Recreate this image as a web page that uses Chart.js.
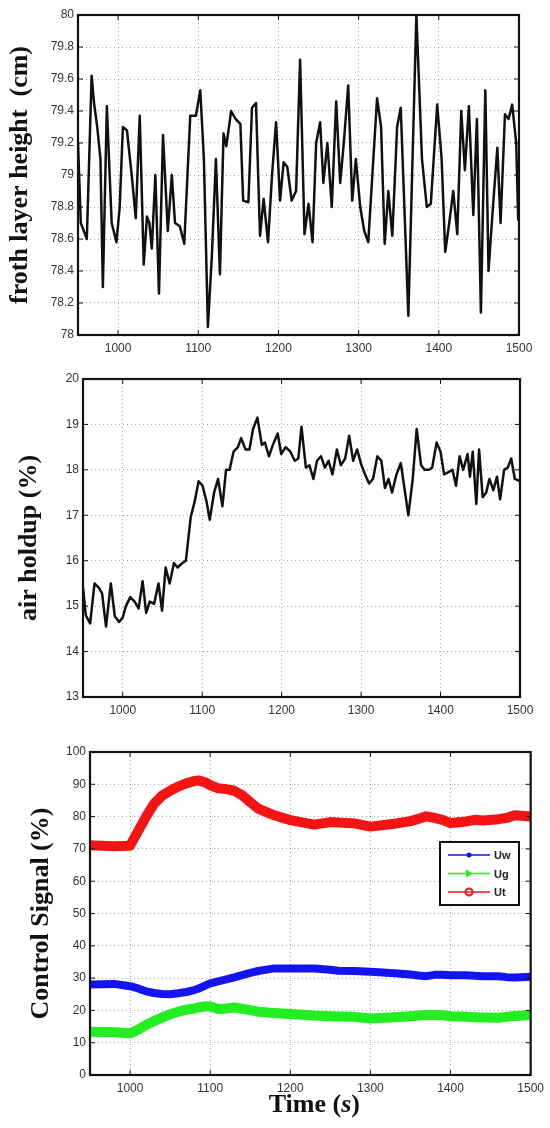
<!DOCTYPE html>
<html>
<head>
<meta charset="utf-8">
<script src="https://cdn.jsdelivr.net/npm/chart.js@4.4.1/dist/chart.umd.min.js"></script>
<style>
    body { margin: 0; background: #fff; width: 550px; height: 1128px; overflow: hidden; }
    canvas { position: absolute; left: 0; }
    #c1 { top: 0; }
    #c2 { top: 365px; }
    #c3 { top: 735px; }
</style>
</head>
<body>
<canvas id="c1" width="550" height="365"></canvas>
<canvas id="c2" width="550" height="370"></canvas>
<canvas id="c3" width="550" height="393"></canvas>
<script>
// ticks shared by the three plots
const xTicks = [1000, 1100, 1200, 1300, 1400, 1500];
const frothTicks = [78, 78.2, 78.4, 78.6, 78.8, 79, 79.2, 79.4, 79.6, 79.8, 80];
const holdupTicks = [13, 14, 15, 16, 17, 18, 19, 20];
const ctrlTicks = [0, 10, 20, 30, 40, 50, 60, 70, 80, 90, 100];

// froth layer height (cm)
const frothTime = [950, 953.5, 961, 967, 970, 974, 978, 981, 986, 989.5, 992, 998, 1002, 1006, 1011, 1017,
    1022, 1027, 1032, 1036, 1039, 1042, 1046.5, 1051, 1056, 1062, 1067, 1071, 1077, 1082.5, 1090, 1097,
    1102.5, 1107, 1112, 1117, 1122, 1127, 1131.5, 1135, 1141, 1146.5, 1152.5, 1156, 1162.5, 1167, 1172,
    1177, 1181.5, 1187, 1192, 1197, 1202, 1206.5, 1211, 1216.5, 1222, 1227, 1232.5, 1237.5, 1242.5, 1247,
    1252, 1256, 1261, 1266.5, 1272, 1277, 1281.5, 1287, 1292, 1296.5, 1302, 1307, 1312, 1323, 1328, 1332.5,
    1337, 1342, 1348, 1352.5, 1362, 1372, 1379, 1385, 1390, 1398, 1403.5, 1408, 1413, 1418, 1423, 1428,
    1432.5, 1437.5, 1443, 1447.5, 1452.5, 1458, 1462, 1467.5, 1473, 1477, 1482.5, 1487, 1491.5, 1496.5,
    1499, 1500];
const frothHeight = [79.2, 78.7, 78.6, 79.62, 79.45, 79.3, 79.1, 78.3, 79.43, 79.0, 78.7, 78.58, 78.8, 79.3,
    79.28, 79.0, 78.73, 79.37, 78.44, 78.74, 78.7, 78.54, 79.0, 78.26, 79.25, 78.65, 79.0, 78.7, 78.68,
    78.57, 79.37, 79.37, 79.53, 79.1, 78.05, 78.5, 79.1, 78.38, 79.26, 79.18, 79.4, 79.35, 79.32, 78.84,
    78.83, 79.42, 79.45, 78.62, 78.85, 78.58, 79.0, 79.33, 78.84, 79.08, 79.05, 78.84, 78.9, 79.72, 78.63,
    78.82, 78.58, 79.2, 79.33, 78.95, 79.2, 78.8, 79.46, 78.95, 79.2, 79.56, 78.84, 79.1, 78.8, 78.65,
    78.58, 79.48, 79.3, 78.57, 78.9, 78.62, 79.3, 79.42, 78.12, 80.0, 79.1, 78.8, 78.82, 79.44, 79.1, 78.52,
    78.7, 78.9, 78.63, 79.4, 79.03, 79.43, 78.75, 79.35, 78.14, 79.53, 78.4, 78.8, 79.17, 78.7, 79.38,
    79.35, 79.44, 79.2, 78.72, 79.0];

// air holdup (%)
const holdupTime = [950, 953.5, 959, 964.5, 970, 974, 979, 985, 990, 995.5, 1000, 1004, 1009.5, 1015, 1020,
    1025, 1029.5, 1034, 1039.5, 1045, 1049.5, 1054, 1059, 1064.5, 1069, 1075, 1079.5, 1085.5, 1090.5,
    1095.5, 1100.5, 1105.5, 1109.5, 1115, 1120, 1125.5, 1130, 1134.5, 1139.5, 1145, 1149, 1154.5, 1159.5,
    1164, 1169.5, 1175, 1179, 1184, 1189, 1195, 1199.5, 1205, 1211, 1216.5, 1221, 1225, 1230.5, 1235, 1240,
    1244.5, 1249.5, 1254.5, 1259, 1264, 1269.5, 1274.5, 1280, 1285, 1290, 1295, 1300.5, 1305, 1310, 1315,
    1320.5, 1325.5, 1330, 1334.5, 1339, 1344.5, 1350, 1354.5, 1359.5, 1365, 1370, 1375.5, 1380, 1385,
    1389.5, 1395, 1400, 1404.5, 1410, 1415, 1419.5, 1424, 1428.5, 1434, 1437, 1440.5, 1445, 1448.5, 1453,
    1457.5, 1461.5, 1466.5, 1471, 1475, 1480, 1484.5, 1489, 1493.5, 1500];
const holdup = [15.4, 14.8, 14.62, 15.5, 15.4, 15.28, 14.55, 15.5, 14.78, 14.65, 14.75, 15.0, 15.2, 15.1,
    14.95, 15.55, 14.85, 15.1, 15.05, 15.5, 14.9, 15.85, 15.5, 15.95, 15.85, 15.95, 16.0, 16.95, 17.3,
    17.75, 17.65, 17.3, 16.9, 17.5, 17.8, 17.2, 18.0, 18.0, 18.4, 18.5, 18.7, 18.45, 18.45, 18.9, 19.15,
    18.55, 18.6, 18.3, 18.55, 18.8, 18.35, 18.5, 18.4, 18.2, 18.25, 18.95, 18.05, 18.1, 17.8, 18.2, 18.3,
    18.05, 18.2, 17.9, 18.45, 18.1, 18.25, 18.75, 18.2, 18.45, 18.1, 17.9, 17.7, 17.8, 18.3, 18.2, 17.6,
    17.8, 17.5, 17.9, 18.15, 17.6, 17.0, 17.8, 18.9, 18.1, 18.0, 18.0, 18.05, 18.6, 18.4, 17.9, 17.95,
    18.0, 17.65, 18.3, 18.0, 18.35, 17.85, 18.4, 17.25, 18.45, 17.4, 17.5, 17.8, 17.55, 17.85, 17.35,
    18.0, 18.05, 18.25, 17.8, 17.75];

// control signals (%)
const ctrlTime = [950, 980, 1000, 1010, 1020, 1030, 1040, 1050, 1060, 1070, 1080, 1085, 1095, 1100, 1110,
    1120, 1130, 1140, 1150, 1160, 1180, 1200, 1230, 1250, 1260, 1280, 1300, 1330, 1350, 1360, 1370, 1380,
    1390, 1400, 1420, 1430, 1440, 1460, 1470, 1480, 1500];
const uw = [28, 28.2, 27.5, 26.8, 25.9, 25.4, 25.1, 25, 25.3, 25.7, 26.3, 26.7, 27.8, 28.4, 29, 29.6, 30.2,
    30.9, 31.6, 32.2, 33, 33, 33, 32.6, 32.3, 32.2, 32, 31.5, 31.1, 30.8, 30.6, 31, 31, 30.9, 30.9, 30.7,
    30.6, 30.6, 30.3, 30.2, 30.4];
const ug = [13.4, 13.2, 12.9, 14, 15.5, 16.7, 17.8, 18.8, 19.6, 20.2, 20.6, 20.9, 21.3, 21.2, 20.4, 20.6,
    20.9, 20.5, 20.1, 19.6, 19.2, 18.9, 18.4, 18.2, 18.1, 18, 17.5, 17.9, 18.2, 18.4, 18.6, 18.6, 18.5,
    18.2, 18, 17.9, 17.8, 17.7, 18, 18.3, 18.6];
const ut = [71.1, 70.8, 71, 75.5, 80, 84, 86.5, 88, 89.3, 90.3, 91, 91.2, 90.5, 89.7, 88.8, 88.5, 88, 86.6,
    84.5, 82.5, 80.4, 78.9, 77.5, 78.3, 78.2, 77.9, 76.9, 77.8, 78.6, 79.3, 80.1, 79.6, 79, 78, 78.5, 79,
    78.8, 79.2, 79.6, 80.4, 80];

const legendNames = ['Uw', 'Ug', 'Ut'];

const TICK_FONT = { family: 'Liberation Sans', size: 12 };
const TITLE_FONT = { family: 'Liberation Serif', size: 26, weight: 'bold', lineHeight: 1 };

function toPoints(xs, ys) {
    return xs.map((x, i) => ({ x: x, y: ys[i] }));
}

// matlab style box with inward ticks on all four sides
const framePlugin = {
    id: 'frame',
    afterDraw(chart) {
        const { ctx, chartArea: a, scales } = chart;
        ctx.save();
        ctx.strokeStyle = '#111';
        ctx.lineWidth = 1;
        ctx.beginPath();
        scales.x.ticks.forEach((t) => {
            const px = scales.x.getPixelForValue(t.value);
            ctx.moveTo(px, a.bottom); ctx.lineTo(px, a.bottom - 5);
            ctx.moveTo(px, a.top); ctx.lineTo(px, a.top + 5);
        });
        scales.y.ticks.forEach((t) => {
            const py = scales.y.getPixelForValue(t.value);
            ctx.moveTo(a.left, py); ctx.lineTo(a.left + 5, py);
            ctx.moveTo(a.right, py); ctx.lineTo(a.right - 5, py);
        });
        ctx.stroke();
        ctx.lineWidth = 2.2;
        ctx.strokeRect(a.left, a.top, a.right - a.left, a.bottom - a.top);

        const opts = chart.options.plugins.frame || {};
        if (opts.legend) drawLegend(chart, opts.legend);
        if (opts.timeTitle) drawTimeTitle(chart);
        ctx.restore();
    },
};

function drawLegend(chart, pos) {
    const { ctx, chartArea: a } = chart;
    const x = a.left + pos.dx;
    const y = a.top + pos.dy;
    ctx.fillStyle = '#fff';
    ctx.fillRect(x, y, 79, 63);
    ctx.strokeStyle = '#111';
    ctx.lineWidth = 2;
    ctx.strokeRect(x, y, 79, 63);
    ctx.font = 'bold 11px "Liberation Sans"';
    ctx.textBaseline = 'middle';
    chart.data.datasets.forEach((ds, i) => {
        const ly = y + 13 + i * 18.5;
        ctx.strokeStyle = ds.borderColor;
        ctx.fillStyle = ds.borderColor;
        ctx.lineWidth = 1.5;
        ctx.beginPath();
        ctx.moveTo(x + 8, ly); ctx.lineTo(x + 50, ly);
        ctx.stroke();
        const mx = x + 29;
        ctx.beginPath();
        if (i === 0) {
            ctx.arc(mx, ly, 2.5, 0, Math.PI * 2);
            ctx.fill();
        } else if (i === 1) {
            ctx.moveTo(mx - 3, ly - 4); ctx.lineTo(mx + 4, ly); ctx.lineTo(mx - 3, ly + 4);
            ctx.closePath();
            ctx.fill();
        } else {
            ctx.arc(mx, ly, 3.5, 0, Math.PI * 2);
            ctx.lineWidth = 2;
            ctx.stroke();
        }
        ctx.fillStyle = '#222';
        ctx.fillText(ds.label, x + 54, ly + 1);
    });
}

function drawTimeTitle(chart) {
    const { ctx, chartArea: a } = chart;
    const parts = [
        ['Time (', 'bold 26px "Liberation Serif"'],
        ['s', 'italic bold 26px "Liberation Serif"'],
        [')', 'bold 26px "Liberation Serif"'],
    ];
    let total = 0;
    parts.forEach((p) => { ctx.font = p[1]; total += ctx.measureText(p[0]).width; });
    let cx = (a.left + a.right) / 2 + 4 - total / 2;
    const cy = a.bottom + 30;
    ctx.fillStyle = '#111';
    ctx.textBaseline = 'middle';
    ctx.textAlign = 'left';
    parts.forEach((p) => {
        ctx.font = p[1];
        ctx.fillText(p[0], cx, cy);
        cx += ctx.measureText(p[0]).width;
    });
}

function makeChart(canvasId, datasets, cfg) {
    return new Chart(document.getElementById(canvasId), {
        type: 'line',
        data: { datasets: datasets },
        plugins: [framePlugin],
        options: {
            responsive: false,
            animation: false,
            layout: { padding: { top: cfg.top, right: cfg.right, left: 0, bottom: 0 } },
            plugins: {
                legend: { display: false },
                tooltip: { enabled: false },
                frame: { legend: cfg.legend, timeTitle: cfg.timeTitle },
            },
            elements: { point: { radius: 0 }, line: { tension: 0, borderJoinStyle: 'round', borderCapStyle: 'round' } },
            scales: {
                x: {
                    type: 'linear',
                    min: 950,
                    max: 1500,
                    afterBuildTicks: (scale) => { scale.ticks = xTicks.map((v) => ({ value: v })); },
                    afterFit: (scale) => { scale.height = cfg.xHeight; },
                    grid: { color: 'rgba(0,0,0,0.35)', lineWidth: 1, drawTicks: false },
                    border: { display: false, dash: [1, 3] },
                    ticks: { font: TICK_FONT, color: '#333', padding: 6, maxRotation: 0, callback: (v) => String(v) },
                },
                y: {
                    min: cfg.yTicks[0],
                    max: cfg.yTicks[cfg.yTicks.length - 1],
                    afterBuildTicks: (scale) => { scale.ticks = cfg.yTicks.map((v) => ({ value: v })); },
                    afterFit: (scale) => { scale.width = cfg.left; },
                    grid: { color: 'rgba(0,0,0,0.35)', lineWidth: 1, drawTicks: false },
                    border: { display: false, dash: [1, 3] },
                    ticks: { font: TICK_FONT, color: '#333', padding: 4, callback: (v) => String(v) },
                    title: { display: true, text: cfg.yTitle, font: TITLE_FONT, color: '#111', padding: { top: cfg.yTitlePad, bottom: 0 } },
                },
            },
        },
    });
}

// dotted grid for every chart
Chart.defaults.scale.grid.borderDash = [1, 3];
Chart.defaults.font.family = 'Liberation Sans';

makeChart('c1', [{
    data: toPoints(frothTime, frothHeight),
    borderColor: '#111',
    borderWidth: 2.5,
}], { top: 15, right: 31, left: 78, xHeight: 30, yTicks: frothTicks, yTitle: 'froth layer height  (cm)', yTitlePad: 7 });

makeChart('c2', [{
    data: toPoints(holdupTime, holdup),
    borderColor: '#111',
    borderWidth: 2.5,
}], { top: 14, right: 30, left: 83, xHeight: 38, yTicks: holdupTicks, yTitle: 'air holdup (%)', yTitlePad: 16 });

makeChart('c3', [
    { label: legendNames[0], data: toPoints(ctrlTime, uw), borderColor: '#1414f0', borderWidth: 8 },
    { label: legendNames[1], data: toPoints(ctrlTime, ug), borderColor: '#22ee22', borderWidth: 10 },
    { label: legendNames[2], data: toPoints(ctrlTime, ut), borderColor: '#f51414', borderWidth: 10 },
], { top: 17, right: 14, left: 90, xHeight: 53, yTicks: ctrlTicks, yTitle: 'Control Signal (%)', yTitlePad: 28,
    legend: { dx: 350, dy: 90 }, timeTitle: true });
</script>
</body>
</html>
